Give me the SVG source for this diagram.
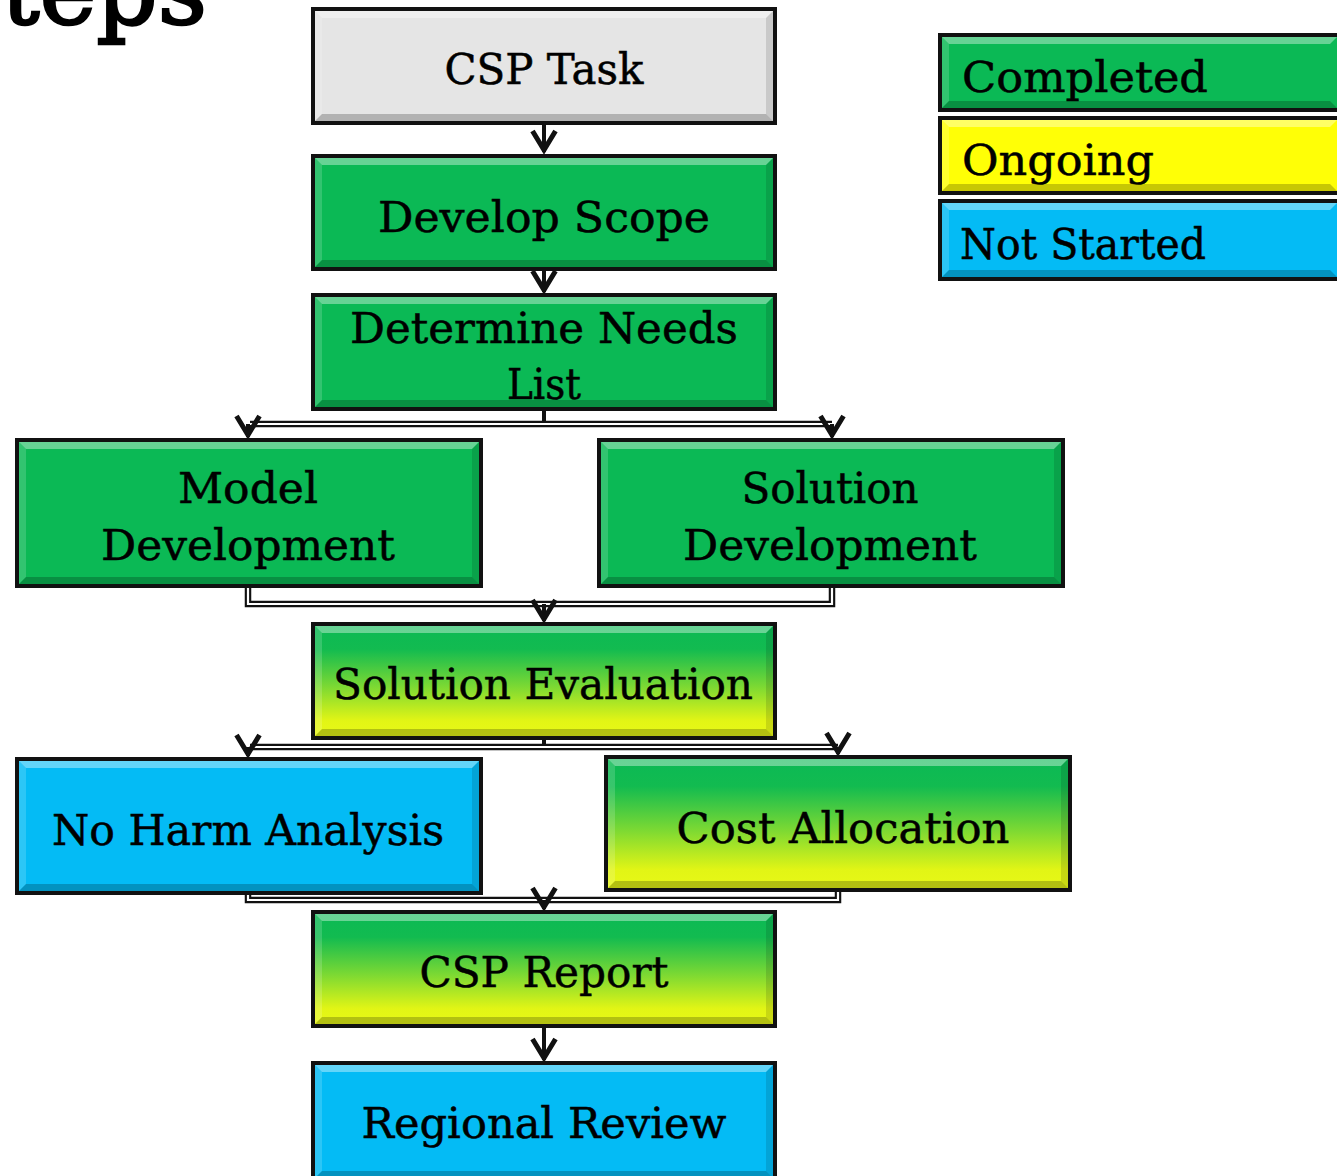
<svg xmlns="http://www.w3.org/2000/svg" width="1337" height="1176" viewBox="0 0 1337 1176">
<defs>
<linearGradient id="gy" x1="0" y1="0" x2="0" y2="1">
<stop offset="0" stop-color="#0bb955"/>
<stop offset="0.22" stop-color="#12bb50"/>
<stop offset="0.55" stop-color="#7cd933"/>
<stop offset="0.85" stop-color="#e2f515"/>
<stop offset="1" stop-color="#e8f817"/>
</linearGradient>
<marker id="v" markerUnits="userSpaceOnUse" viewBox="-25 -15 28 30" refX="0" refY="0" markerWidth="28" markerHeight="30" orient="auto">
<path d="M-21 -11.5L-2 0L-21 11.5" fill="none" stroke="#111" stroke-width="5"/>
</marker>
<style>
.box{stroke:#111;stroke-width:4}
.gray{fill:#e5e5e5}
.green{fill:#0bb955}
.blue{fill:#04bbf5}
.yellow{fill:#ffff06}
.grad{fill:url(#gy)}
.t{fill:#fff;fill-opacity:.38}
.l{fill:#fff;fill-opacity:.16}
.b{fill:#000;fill-opacity:.22}
.r{fill:#000;fill-opacity:.12}
text{font-family:"DejaVu Serif","Liberation Serif",serif;font-size:42px;fill:#000;stroke:#000;stroke-width:0.5}
.c{text-anchor:middle}
.ln{fill:none;stroke:#111;stroke-width:4}
.dbl{fill:none;stroke:#111;stroke-width:6.5}
.dblw{fill:none;stroke:#fff;stroke-width:2.2}
.ar{fill:none;stroke:#111;stroke-width:4;marker-end:url(#v)}
</style>
</defs>
<rect width="1337" height="1176" fill="#fff"/>
<text x="207" y="24" style="font-size:96px;text-anchor:end;stroke-width:2.5">Steps</text>

<g id="connectors">
<path class="ar" d="M544 125V152"/>
<path class="ar" d="M544 271V292"/>
<path class="ln" d="M544 411V424"/>
<path class="dbl" d="M250 424H832"/>
<path class="dblw" d="M250 424H832"/>
<path class="ar" d="M248 424V437"/>
<path class="ar" d="M832 424V437"/>
<path class="dbl" d="M248 588V604H832V588"/>
<path class="dblw" d="M248 588V604H832V588"/>
<path class="ar" d="M544 604V621"/>
<path class="ln" d="M544 740V747"/>
<path class="dbl" d="M250 747H838"/>
<path class="dblw" d="M250 747H838"/>
<path class="ar" d="M248 747V756"/>
<path class="ar" d="M838 747V754"/>
<path class="dbl" d="M248 895V900H838V892"/>
<path class="dblw" d="M248 895V900H838V892"/>
<path class="ar" d="M544 900V909"/>
<path class="ar" d="M544 1028V1060"/>
</g>

<g id="n-csp-task">
<rect class="box gray" x="313" y="9" width="462" height="114"/>
<path class="t" d="M315 11H773L766 18H322Z"/><path class="l" d="M315 11L322 18V114L315 121Z"/><path class="b" d="M315 121H773L766 114H322Z"/><path class="r" d="M773 11V121L766 114V18Z"/>
<text class="c" x="544" y="84" textLength="199" lengthAdjust="spacingAndGlyphs">CSP Task</text>
</g>

<g id="n-develop-scope">
<rect class="box green" x="313" y="156" width="462" height="113"/>
<path class="t" d="M315 158H773L766 165H322Z"/><path class="l" d="M315 158L322 165V260L315 267Z"/><path class="b" d="M315 267H773L766 260H322Z"/><path class="r" d="M773 158V267L766 260V165Z"/>
<text class="c" x="544" y="232" textLength="332" lengthAdjust="spacingAndGlyphs">Develop Scope</text>
</g>

<g id="n-determine-needs">
<rect class="box green" x="313" y="295" width="462" height="114"/>
<path class="t" d="M315 297H773L766 304H322Z"/><path class="l" d="M315 297L322 304V400L315 407Z"/><path class="b" d="M315 407H773L766 400H322Z"/><path class="r" d="M773 297V407L766 400V304Z"/>
<text class="c" x="544" y="343" textLength="388" lengthAdjust="spacingAndGlyphs">Determine Needs</text>
<text class="c" x="544" y="399" textLength="74" lengthAdjust="spacingAndGlyphs">List</text>
</g>

<g id="n-model-development">
<rect class="box green" x="17" y="440" width="464" height="146"/>
<path class="t" d="M19 442H479L472 449H26Z"/><path class="l" d="M19 442L26 449V577L19 584Z"/><path class="b" d="M19 584H479L472 577H26Z"/><path class="r" d="M479 442V584L472 577V449Z"/>
<text class="c" x="248" y="503" textLength="140" lengthAdjust="spacingAndGlyphs">Model</text>
<text class="c" x="248" y="560" textLength="294" lengthAdjust="spacingAndGlyphs">Development</text>
</g>

<g id="n-solution-development">
<rect class="box green" x="599" y="440" width="464" height="146"/>
<path class="t" d="M601 442H1061L1054 449H608Z"/><path class="l" d="M601 442L608 449V577L601 584Z"/><path class="b" d="M601 584H1061L1054 577H608Z"/><path class="r" d="M1061 442V584L1054 577V449Z"/>
<text class="c" x="830" y="503" textLength="177" lengthAdjust="spacingAndGlyphs">Solution</text>
<text class="c" x="830" y="560" textLength="294" lengthAdjust="spacingAndGlyphs">Development</text>
</g>

<g id="n-solution-evaluation">
<rect class="box grad" x="313" y="624" width="462" height="114"/>
<path class="t" d="M315 626H773L766 633H322Z"/><path class="l" d="M315 626L322 633V729L315 736Z"/><path class="b" d="M315 736H773L766 729H322Z"/><path class="r" d="M773 626V736L766 729V633Z"/>
<text class="c" x="543" y="699" textLength="420" lengthAdjust="spacingAndGlyphs">Solution Evaluation</text>
</g>

<g id="n-no-harm-analysis">
<rect class="box blue" x="17" y="759" width="464" height="134"/>
<path class="t" d="M19 761H479L472 768H26Z"/><path class="l" d="M19 761L26 768V884L19 891Z"/><path class="b" d="M19 891H479L472 884H26Z"/><path class="r" d="M479 761V891L472 884V768Z"/>
<text class="c" x="248" y="845" textLength="392" lengthAdjust="spacingAndGlyphs">No Harm Analysis</text>
</g>

<g id="n-cost-allocation">
<rect class="box grad" x="606" y="757" width="464" height="133"/>
<path class="t" d="M608 759H1068L1061 766H615Z"/><path class="l" d="M608 759L615 766V881L608 888Z"/><path class="b" d="M608 888H1068L1061 881H615Z"/><path class="r" d="M1068 759V888L1061 881V766Z"/>
<text class="c" x="843" y="843" textLength="333" lengthAdjust="spacingAndGlyphs">Cost Allocation</text>
</g>

<g id="n-csp-report">
<rect class="box grad" x="313" y="912" width="462" height="114"/>
<path class="t" d="M315 914H773L766 921H322Z"/><path class="l" d="M315 914L322 921V1017L315 1024Z"/><path class="b" d="M315 1024H773L766 1017H322Z"/><path class="r" d="M773 914V1024L766 1017V921Z"/>
<text class="c" x="544" y="987" textLength="249" lengthAdjust="spacingAndGlyphs">CSP Report</text>
</g>

<g id="n-regional-review">
<rect class="box blue" x="313" y="1063" width="462" height="117"/>
<path class="t" d="M315 1065H773L766 1072H322Z"/><path class="l" d="M315 1065L322 1072V1171L315 1178Z"/><path class="b" d="M315 1178H773L766 1171H322Z"/><path class="r" d="M773 1065V1178L766 1171V1072Z"/>
<text class="c" x="544" y="1138" textLength="365" lengthAdjust="spacingAndGlyphs">Regional Review</text>
</g>

<g id="legend-completed">
<rect class="box green" x="940" y="35" width="401" height="75"/>
<path class="t" d="M942 37H1337L1330 44H949Z"/><path class="l" d="M942 37L949 44V101L942 108Z"/><path class="b" d="M942 108H1337L1330 101H949Z"/>
<text x="962" y="92" textLength="246" lengthAdjust="spacingAndGlyphs">Completed</text>
</g>

<g id="legend-ongoing">
<rect class="box yellow" x="940" y="118" width="401" height="75"/>
<path class="t" d="M942 120H1337L1330 127H949Z"/><path class="l" d="M942 120L949 127V184L942 191Z"/><path class="b" d="M942 191H1337L1330 184H949Z"/>
<text x="962" y="175" textLength="192" lengthAdjust="spacingAndGlyphs">Ongoing</text>
</g>

<g id="legend-not-started">
<rect class="box blue" x="940" y="201" width="401" height="78"/>
<path class="t" d="M942 203H1337L1330 210H949Z"/><path class="l" d="M942 203L949 210V270L942 277Z"/><path class="b" d="M942 277H1337L1330 270H949Z"/>
<text x="960" y="259" textLength="246" lengthAdjust="spacingAndGlyphs">Not Started</text>
</g>
</svg>
